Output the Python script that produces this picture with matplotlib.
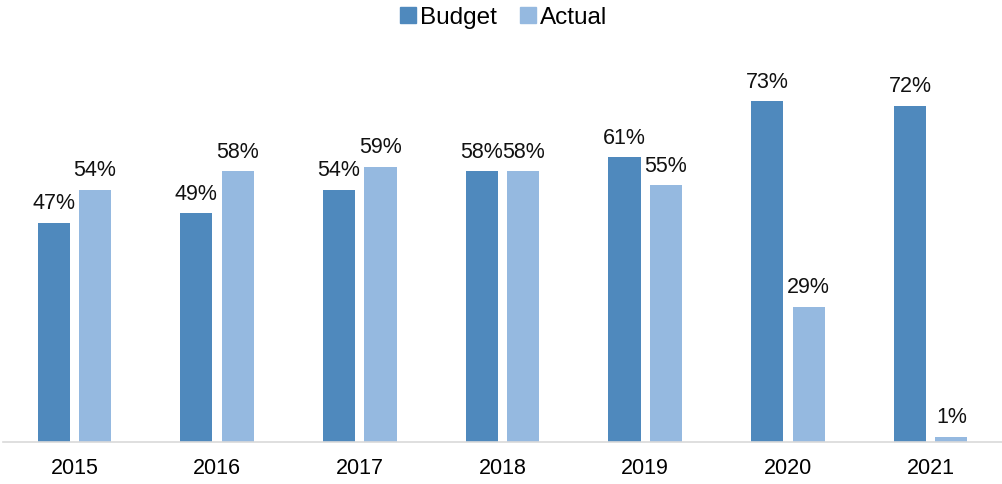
import numpy as np
import matplotlib.pyplot as plt
from matplotlib.lines import Line2D

plt.rcParams['font.family'] = ['Liberation Sans', 'DejaVu Sans']

years = ['2015', '2016', '2017', '2018', '2019', '2020', '2021']
budget = [47, 49, 54, 58, 61, 73, 72]
actual = [54, 58, 59, 58, 55, 29, 1]

c_budget = '#4F89BD'
c_actual = '#95B9E0'

fig = plt.figure(figsize=(10.02, 4.85), dpi=100)
ax = fig.add_axes([0.003, 0.087, 0.997, 0.78])

x = np.arange(len(years))
w = 0.225
off = 0.145
b1 = ax.bar(x - off, budget, w, color=c_budget, zorder=2)
b2 = ax.bar(x + off, actual, w, color=c_actual, zorder=2)

for bars, vals in [(b1, budget), (b2, actual)]:
    for r, v in zip(bars, vals):
        ax.annotate(f'{v}%', (r.get_x() + r.get_width() / 2, v),
                    xytext=(0, 7), textcoords='offset points',
                    ha='center', va='bottom', fontsize=15.5, color='#111111')

ax.set_xlim(-0.5, len(years) - 0.5)
ax.set_ylim(0, 73 * 1.0 / 0.855 * 0.95)
ax.set_xticks(x)
ax.set_xticklabels(years, fontsize=15.5)
ax.tick_params(axis='x', length=0, pad=11)
ax.set_yticks([])
for s in ['top', 'right', 'left']:
    ax.spines[s].set_visible(False)
ax.spines['bottom'].set_color('#D9D9D9')
ax.spines['bottom'].set_linewidth(1.2)

handles = [Line2D([], [], marker='s', linestyle='none', markersize=11, color=c_budget),
           Line2D([], [], marker='s', linestyle='none', markersize=11, color=c_actual)]
fig.legend(handles, ['Budget', 'Actual'], loc='upper center', bbox_to_anchor=(0.503, 1.03),
           ncol=2, frameon=False, fontsize=17.5, handlelength=0.6, handletextpad=0.2,
           columnspacing=1.0)

fig.savefig('out.png', dpi=100)
